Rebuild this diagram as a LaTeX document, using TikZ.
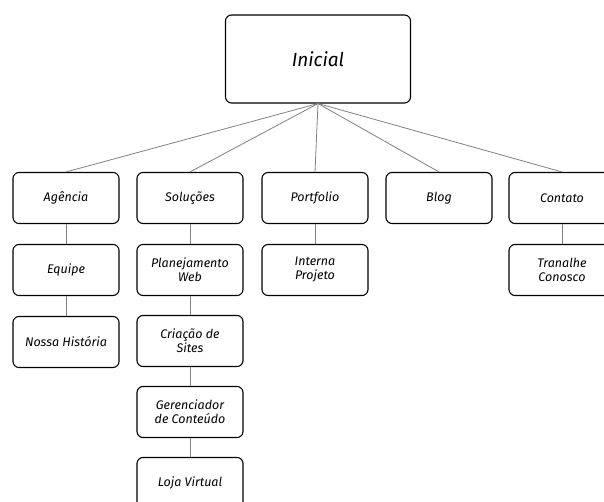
\documentclass[tikz,border=0pt]{standalone}
\usepackage{fontspec}
\setmainfont{Fira Sans}
\usepackage{tikz}

\begin{document}
\begin{tikzpicture}[x=1pt,y=-1pt]
  \tikzstyle{every node}=[draw,line width=1.1pt,rounded corners=6pt,
    minimum width=106pt,minimum height=51pt,align=center,
    font=\fontsize{12.5}{14}\selectfont\itshape]
  \useasboundingbox (0,0) rectangle (604,502);
  \path
  (318,59)  node[minimum width=185pt,minimum height=88pt,
                 font=\fontsize{19}{22}\selectfont\itshape] (ini) {Inicial}
  (66,198)  node (age) {Agência}
  (190,198) node (sol) {Soluções}
  (315,198) node (por) {Portfolio}
  (439,198) node (blo) {Blog}
  (562,198) node (con) {Contato}
  (66,270)  node (equ) {Equipe}
  (66,342)  node (his) {Nossa História}
  (190,270) node (pla) {Planejamento\\Web}
  (190,341) node (cri) {Criação de\\Sites}
  (190,412) node (ger) {Gerenciador\\de Conteúdo}
  (190,483) node (loj) {Loja Virtual}
  (315,270) node (int) {Interna\\Projeto}
  (562,270) node (tra) {Tranalhe\\Conosco}
  ;
  \path[draw,gray,line width=0.8pt]
  (ini.south) edge (age.north)
  (ini.south) edge (sol.north)
  (ini.south) edge (por.north)
  (ini.south) edge (blo.north)
  (ini.south) edge (con.north);
  \path[draw,gray,line width=0.8pt]
  (age) edge (equ)
  (equ) edge (his)
  (sol) edge (pla)
  (pla) edge (cri)
  (cri) edge (ger)
  (ger) edge (loj)
  (por) edge (int)
  (con) edge (tra);
\end{tikzpicture}
\end{document}
